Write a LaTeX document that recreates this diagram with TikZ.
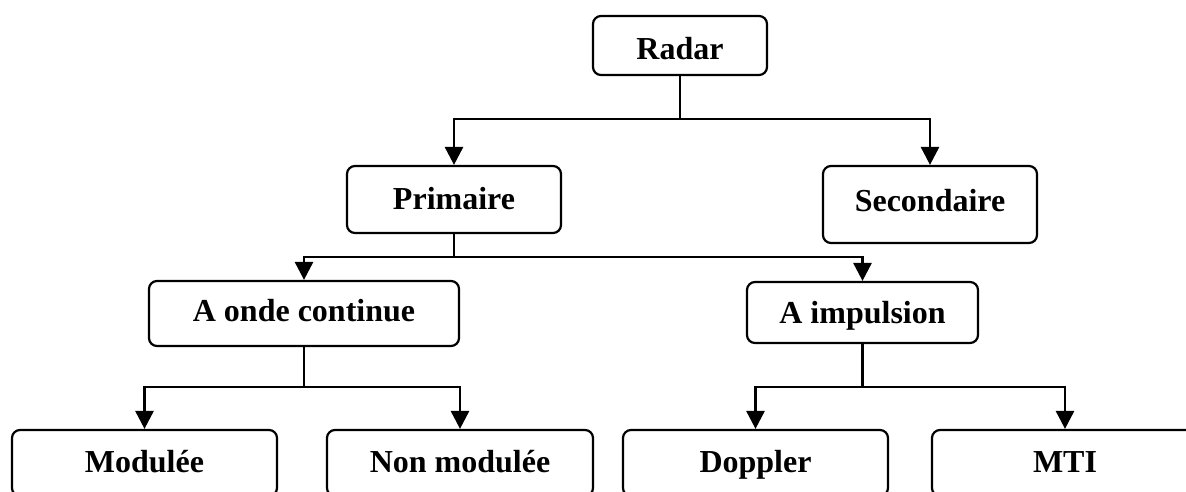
\documentclass[tikz,border=0pt]{standalone}
\usepackage{fontspec}
\setmainfont{Liberation Serif}
\usetikzlibrary{arrows.meta}
\begin{document}
\begin{tikzpicture}[x=1pt,y=-1pt,
  box/.style={draw, line width=2.2pt, rounded corners=8pt, inner sep=0pt,
    text height=30pt, text depth=12pt,
    font=\fontsize{32}{36}\selectfont\bfseries},
  arr/.style={line width=2.8pt, -{Triangle[width=18pt,length=18pt]}}]
\useasboundingbox (0,0) rectangle (1186,491);
\clip (0,0) rectangle (1186,491);
\node[box, minimum width=174pt, minimum height=59pt, text depth=3pt] (radar) at (680,45.5) {Radar};
\node[box, minimum width=214pt, minimum height=67pt, text depth=11pt] (prim) at (454,199.5) {Primaire};
\node[box, minimum width=214pt, minimum height=77pt, text depth=17pt] (sec) at (930,204.5) {Secondaire};
\node[box, minimum width=310pt, minimum height=65pt, text depth=14pt] (onde) at (304,313.5) {A onde continue};
\node[box, minimum width=231pt, minimum height=61pt, text depth=9pt] (imp) at (862.5,312.5) {A impulsion};
\node[box, minimum width=265pt, minimum height=66pt] (mod) at (144.5,463) {Modulée};
\node[box, minimum width=266pt, minimum height=66pt] (nonmod) at (460,463) {Non modulée};
\node[box, minimum width=265pt, minimum height=66pt] (dop) at (755.5,463) {Doppler};
\node[box, minimum width=266pt, minimum height=66pt] (mti) at (1065,463) {MTI};
\coordinate (j1) at (680,119);
\coordinate (j2) at (454,257);
\coordinate (j3) at (304,387);
\coordinate (j4) at (862.5,387);
\draw[arr] (radar.south) -- (j1) -| (prim.north);
\draw[arr] (j1) -| (sec.north);
\draw[arr] (prim.south) -- (j2) -| (onde.north);
\draw[arr] (j2) -| (imp.north);
\draw[arr] (onde.south) -- (j3) -| (mod.north);
\draw[arr] (j3) -| (nonmod.north);
\draw[arr] (imp.south) -- (j4) -| (dop.north);
\draw[arr] (j4) -| (mti.north);
\end{tikzpicture}
\end{document}
